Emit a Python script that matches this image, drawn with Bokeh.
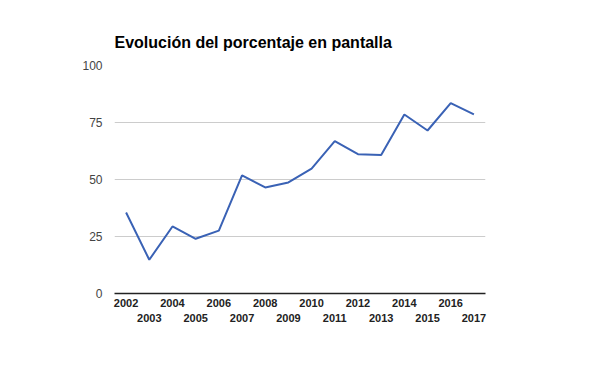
from bokeh.plotting import figure
from bokeh.models import LinearAxis, FixedTicker, Range1d
from bokeh.embed import file_html
from bokeh.resources import INLINE

years = list(range(2002, 2018))
values = [35.5, 14.8, 29.4, 24.0, 27.6, 51.8, 46.5, 48.7, 54.8, 66.8, 61.1, 60.7, 78.5, 71.5, 83.5, 78.6]
y_ticks = [0, 25, 50, 75, 100]
even_years = [y for y in years if y % 2 == 0]
odd_years = [y for y in years if y % 2 == 1]
title_text = "Evolución del porcentaje en pantalla"

FONT = "Liberation Sans"

p = figure(width=579, height=349, output_backend="svg", toolbar_location=None,
           x_range=Range1d(years[0] - 0.5, years[-1] + 0.5), y_range=Range1d(0, 100),
           x_axis_location=None, min_border_left=114, min_border_right=94,
           min_border_top=65, min_border_bottom=56)
p.outline_line_color = None
p.background_fill_color = "white"
p.border_fill_color = "white"

p.title.text = title_text
p.title.text_font = FONT
p.title.text_font_size = "16px"
p.title.text_font_style = "bold"
p.title.text_color = "#000000"
p.title.align = "left"
p.title.standoff = 30

p.line(years, values, line_color="#3A62B5", line_width=2)

# y axis
p.yaxis.ticker = FixedTicker(ticks=y_ticks)
p.yaxis.axis_line_color = None
p.yaxis.major_tick_line_color = None
p.yaxis.minor_tick_line_color = None
p.yaxis.major_tick_out = 0
p.yaxis.major_tick_in = 0
p.yaxis.major_label_text_font = FONT
p.yaxis.major_label_text_font_size = "12px"
p.yaxis.major_label_text_color = "#444444"
p.yaxis.major_label_standoff = 12

p.ygrid.ticker = FixedTicker(ticks=[25, 50, 75, 100])
p.ygrid.grid_line_color = "#cccccc"
p.xgrid.grid_line_color = None

ax1 = LinearAxis(ticker=FixedTicker(ticks=even_years),
                 major_label_overrides={y: str(y) for y in even_years})
ax2 = LinearAxis(ticker=FixedTicker(ticks=odd_years),
                 major_label_overrides={y: str(y) for y in odd_years})
for ax in (ax1, ax2):
    ax.major_tick_line_color = None
    ax.minor_tick_line_color = None
    ax.major_tick_out = 0
    ax.major_tick_in = 0
    ax.major_label_text_font = FONT
    ax.major_label_text_font_size = "11px"
    ax.major_label_text_font_style = "bold"
    ax.major_label_text_color = "#222222"
ax1.axis_line_color = "#222222"
ax1.axis_line_width = 1.5
ax1.major_label_standoff = 5
ax2.axis_line_color = None
ax2.major_label_standoff = 4
p.add_layout(ax1, "below")
p.add_layout(ax2, "below")

open("out.html", "w").write(file_html(p, INLINE))
